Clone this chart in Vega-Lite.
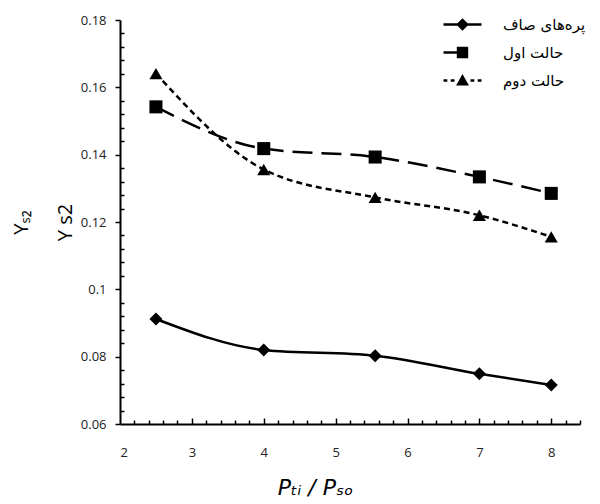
{
  "$schema": "https://vega.github.io/schema/vega-lite/v6.json",
  "width": 460,
  "height": 404,
  "autosize": {"type": "none"},
  "padding": {"left": 120, "top": 20, "right": 20, "bottom": 80},
  "background": "white",
  "config": {
    "view": {"stroke": null},
    "axis": {"labelFont": "Open Sans", "labelFontSize": 13, "labelColor": "#222", "domainColor": "black", "tickColor": "black", "grid": false}
  },
  "data": {
    "values": [
      {"series": "پره‌های صاف", "x": 2.5, "y": 0.0912},
      {"series": "پره‌های صاف", "x": 4.0, "y": 0.0820},
      {"series": "پره‌های صاف", "x": 5.55, "y": 0.0803},
      {"series": "پره‌های صاف", "x": 7.0, "y": 0.0749},
      {"series": "پره‌های صاف", "x": 8.0, "y": 0.0716},
      {"series": "حالت اول", "x": 2.5, "y": 0.1542},
      {"series": "حالت اول", "x": 4.0, "y": 0.1418},
      {"series": "حالت اول", "x": 5.55, "y": 0.1393},
      {"series": "حالت اول", "x": 7.0, "y": 0.1334},
      {"series": "حالت اول", "x": 8.0, "y": 0.1285},
      {"series": "حالت دوم", "x": 2.5, "y": 0.1641},
      {"series": "حالت دوم", "x": 4.0, "y": 0.1356},
      {"series": "حالت دوم", "x": 5.55, "y": 0.1273},
      {"series": "حالت دوم", "x": 7.0, "y": 0.1220},
      {"series": "حالت دوم", "x": 8.0, "y": 0.1156}
    ]
  },
  "encoding": {
    "x": {"field": "x", "type": "quantitative", "scale": {"domain": [2, 8.4], "nice": false, "zero": false}, "axis": null},
    "y": {"field": "y", "type": "quantitative", "scale": {"domain": [0.06, 0.18], "nice": false, "zero": false}, "axis": null}
  },
  "layer": [
    {
      "transform": [{"filter": "datum.series === 'پره‌های صاف'"}],
      "mark": {"type": "line", "interpolate": "monotone", "color": "black", "strokeWidth": 2.5},
      "encoding": {
        "x": {
          "field": "x", "type": "quantitative",
          "scale": {"domain": [2, 8.4], "nice": false, "zero": false},
          "axis": {"orient": "bottom", "values": [2, 3, 4, 5, 6, 7, 8], "format": "d", "ticks": true, "tickSize": 0, "domainWidth": 2, "labelPadding": 22, "title": "Pₜᵢ / Pₛₒ", "titleFont": "DejaVu Sans", "titleFontSize": 22, "titleFontStyle": "italic", "titleFontWeight": "normal", "titleColor": "black", "titleX": 195, "titleY": 70, "titleBaseline": "alphabetic", "titleAnchor": "middle", "titleAlign": "center"}
        },
        "y": {
          "field": "y", "type": "quantitative",
          "scale": {"domain": [0.06, 0.18], "nice": false, "zero": false},
          "axis": {"orient": "left", "values": [0.06, 0.08, 0.1, 0.12, 0.14, 0.16, 0.18], "format": ".2~f", "tickSize": 5, "tickWidth": 1.5, "domainWidth": 2, "labelPadding": 9, "title": ["Yₛ₂", "Y s2"], "titleLineHeight": 44, "titleFont": "Open Sans", "titleFontSize": 20, "titleFontWeight": "normal", "titleColor": "black", "titlePadding": 5}
        }
      }
    },
    {
      "transform": [{"filter": "datum.series === 'حالت اول'"}],
      "mark": {"type": "line", "interpolate": "monotone", "color": "black", "strokeWidth": 2.5, "strokeDash": [20, 9]}
    },
    {
      "transform": [{"filter": "datum.series === 'حالت دوم'"}],
      "mark": {"type": "line", "interpolate": "monotone", "color": "black", "strokeWidth": 2.5, "strokeDash": [6, 4]}
    },
    {
      "transform": [{"filter": "datum.series === 'پره‌های صاف'"}],
      "mark": {"type": "point", "shape": "diamond", "filled": true, "color": "black", "opacity": 1, "size": 170}
    },
    {
      "transform": [{"filter": "datum.series === 'حالت اول'"}],
      "mark": {"type": "point", "shape": "square", "filled": true, "color": "black", "opacity": 1, "size": 170}
    },
    {
      "transform": [{"filter": "datum.series === 'حالت دوم'"}],
      "mark": {"type": "point", "shape": "triangle-up", "filled": true, "color": "black", "opacity": 1, "size": 170}
    },
    {
      "mark": {"type": "point", "filled": true, "color": "black", "opacity": 0, "size": 10},
      "encoding": {
        "x": {
          "field": "x", "type": "quantitative",
          "scale": {"domain": [2, 8.4], "nice": false, "zero": false},
          "axis": {"orient": "top", "offset": -404, "values": [2.2, 2.4, 2.6, 2.8, 3, 3.2, 3.4, 3.6, 3.8, 4, 4.2, 4.4, 4.6, 4.8, 5, 5.2, 5.4, 5.6, 5.8, 6, 6.2, 6.4, 6.6, 6.8, 7, 7.2, 7.4, 7.6, 7.8, 8, 8.2, 8.4], "labels": false, "domain": false, "ticks": true, "tickSize": {"condition": {"test": "abs(datum.value - round(datum.value)) < 0.001", "value": 6}, "value": 4}, "tickWidth": 1.5, "title": null}
        },
        "y": {
          "field": "y", "type": "quantitative",
          "scale": {"domain": [0.06, 0.18], "nice": false, "zero": false},
          "axis": {"orient": "right", "offset": -460, "values": [0.064, 0.068, 0.072, 0.076, 0.084, 0.088, 0.092, 0.096, 0.104, 0.108, 0.112, 0.116, 0.124, 0.128, 0.132, 0.136, 0.144, 0.148, 0.152, 0.156, 0.164, 0.168, 0.172, 0.176], "labels": false, "domain": false, "ticks": true, "tickSize": 4, "tickWidth": 1.5, "title": null}
        },
        "shape": {
          "field": "series", "type": "nominal",
          "scale": {
            "domain": ["پره‌های صاف", "حالت اول", "حالت دوم"],
            "range": [
              "M-1,-0.06H1V0.06H-1ZM0,-0.33L0.33,0L0,0.33L-0.33,0Z",
              "M-1,-0.06H-0.2V0.06H-1ZM-0.3,-0.3H0.3V0.3H-0.3Z",
              "M-1,-0.06H-0.8V0.06H-1ZM-0.62,-0.06H-0.42V0.06H-0.62ZM0.42,-0.06H0.62V0.06H0.42ZM0.8,-0.06H1V0.06H0.8ZM0,-0.34L0.34,0.26H-0.34Z"
            ]
          },
          "legend": {
            "title": null, "orient": "none", "legendX": 323, "legendY": -15, "padding": 0,
            "symbolSize": 1444, "rowPadding": -3, "labelOffset": 21,
            "labelFont": "DejaVu Sans", "labelFontSize": 15, "labelColor": "black",
            "symbolOpacity": 1, "symbolFillColor": "black", "symbolStrokeColor": "black", "symbolStrokeWidth": 0.5
          }
        }
      }
    }
  ],
  "resolve": {"axis": {"x": "independent", "y": "independent"}}
}
